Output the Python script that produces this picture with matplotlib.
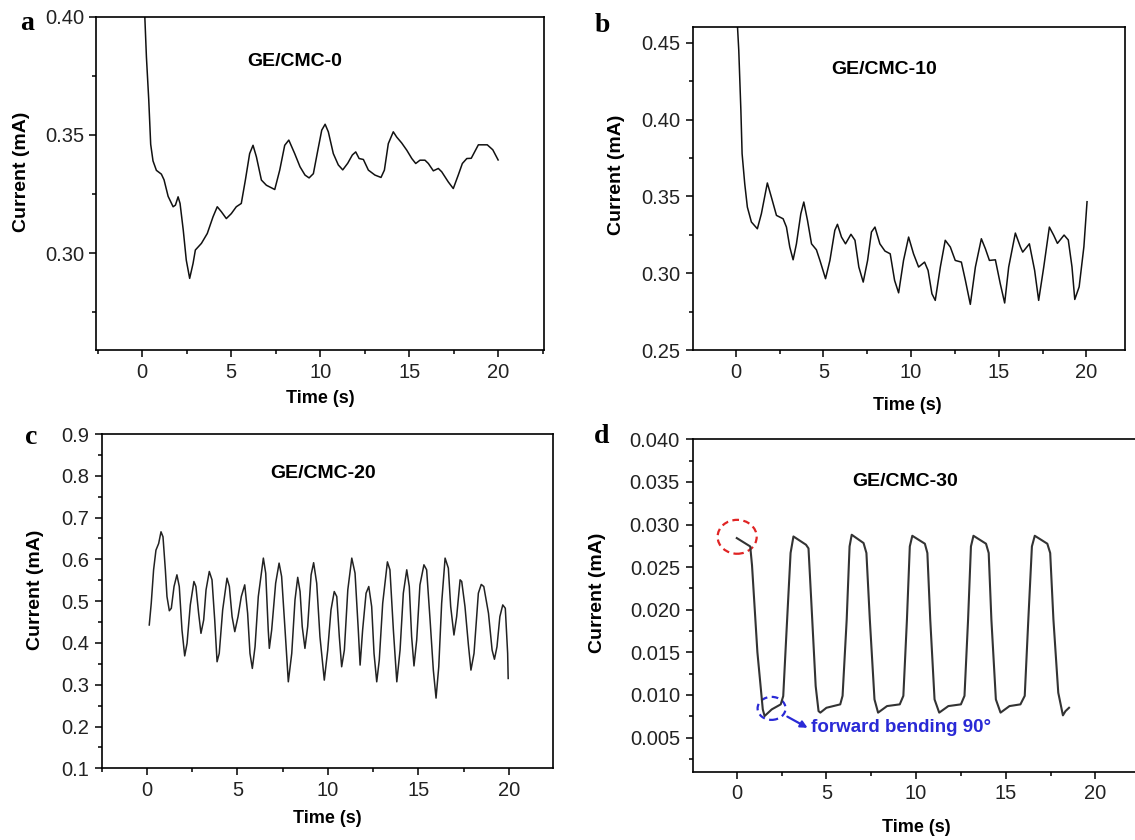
import matplotlib
matplotlib.use("Agg")
import matplotlib.pyplot as plt
from matplotlib.patches import Ellipse
from matplotlib.ticker import MultipleLocator, FormatStrFormatter

plt.rcParams['font.family'] = ['Liberation Sans', 'DejaVu Sans']

# ---------------- data ----------------
time_a = [0.12, 0.15, 0.24, 0.37, 0.48, 0.61, 0.80, 1.08, 1.23, 1.46, 1.74, 1.87, 2.02, 2.13,
          2.31, 2.48, 2.67, 2.86, 2.99, 3.33, 3.66, 3.98, 4.22, 4.45, 4.73, 5.01, 5.29, 5.57,
          5.80, 6.04, 6.23, 6.42, 6.70, 6.98, 7.45, 7.73, 8.01, 8.24, 8.57, 8.87, 9.15, 9.38,
          9.62, 9.87, 10.09, 10.28, 10.46, 10.74, 11.02, 11.27, 11.55, 11.81, 12.00, 12.19,
          12.43, 12.71, 13.08, 13.42, 13.61, 13.83, 14.11, 14.30, 14.58, 14.87, 15.15, 15.37,
          15.61, 15.89, 16.08, 16.36, 16.64, 16.83, 17.20, 17.48, 17.76, 17.99, 18.24, 18.49,
          18.89, 19.39, 19.70, 20.00]
current_a = [0.405, 0.400, 0.383, 0.365, 0.346, 0.339, 0.335, 0.3334, 0.331, 0.324, 0.3196,
             0.3203, 0.3238, 0.321, 0.3097, 0.297, 0.2893, 0.2956, 0.3013, 0.3041, 0.3083,
             0.3153, 0.3196, 0.3175, 0.3146, 0.3167, 0.3196, 0.321, 0.3309, 0.3421, 0.3456,
             0.3407, 0.3309, 0.3287, 0.3269, 0.3351, 0.3456, 0.3478, 0.3421, 0.3365, 0.333,
             0.3318, 0.3336, 0.3435, 0.352, 0.3545, 0.3513, 0.3421, 0.3373, 0.3352, 0.338,
             0.3415, 0.3428, 0.340, 0.3396, 0.3351, 0.333, 0.332, 0.3351, 0.3463, 0.3513,
             0.3491, 0.3466, 0.3435, 0.340, 0.3379, 0.3393, 0.3393, 0.3379, 0.3348, 0.3358,
             0.3344, 0.3301, 0.3273, 0.333, 0.3379, 0.340, 0.3401, 0.3458, 0.3458, 0.3437,
             0.3394]

time_b = [0.09, 0.17, 0.29, 0.36, 0.51, 0.66, 0.89, 1.23, 1.46, 1.80, 2.03, 2.32, 2.70, 2.89,
          3.08, 3.27, 3.46, 3.71, 3.88, 4.09, 4.32, 4.60, 4.80, 5.12, 5.37, 5.65, 5.80, 6.03,
          6.26, 6.57, 6.80, 7.02, 7.27, 7.52, 7.74, 7.94, 8.22, 8.51, 8.81, 9.06, 9.29, 9.57,
          9.86, 10.14, 10.43, 10.77, 10.97, 11.19, 11.38, 11.67, 11.95, 12.24, 12.52, 12.87,
          13.10, 13.38, 13.67, 14.01, 14.24, 14.47, 14.81, 15.09, 15.34, 15.57, 15.95, 16.24,
          16.37, 16.75, 17.05, 17.28, 17.57, 17.89, 18.14, 18.35, 18.73, 18.97, 19.18, 19.34,
          19.59, 19.86, 20.04]
current_b = [0.462, 0.445, 0.406, 0.3777, 0.3582, 0.343, 0.3333, 0.3289, 0.3387, 0.3587,
             0.3495, 0.3376, 0.3354, 0.330, 0.317, 0.3087, 0.3191, 0.3387, 0.3463, 0.3344,
             0.3191, 0.3152, 0.3083, 0.2964, 0.3083, 0.3279, 0.3318, 0.3235, 0.3191, 0.3253,
             0.3214, 0.304, 0.2942, 0.3083, 0.3268, 0.330, 0.3191, 0.3144, 0.3126, 0.2953,
             0.2872, 0.3083, 0.3235, 0.3126, 0.304, 0.3072, 0.3018, 0.2866, 0.2823, 0.304,
             0.3214, 0.317, 0.3083, 0.3072, 0.2953, 0.2797, 0.304, 0.3224, 0.3159, 0.3083,
             0.3087, 0.2931, 0.2806, 0.304, 0.3261, 0.317, 0.3137, 0.3191, 0.3018, 0.2823,
             0.304, 0.330, 0.3246, 0.3194, 0.3248, 0.3216, 0.3042, 0.2829, 0.2911, 0.3172,
             0.3465]

time_c = [0.12, 0.23, 0.36, 0.49, 0.64, 0.77, 0.88, 1.01, 1.10, 1.23, 1.34, 1.49, 1.65, 1.78,
          1.93, 2.08, 2.21, 2.39, 2.59, 2.70, 2.85, 2.98, 3.13, 3.26, 3.44, 3.59, 3.74, 3.87,
          3.99, 4.18, 4.42, 4.55, 4.70, 4.85, 5.03, 5.21, 5.40, 5.56, 5.69, 5.82, 5.97, 6.15,
          6.43, 6.56, 6.70, 6.76, 6.89, 7.11, 7.30, 7.44, 7.63, 7.81, 8.00, 8.18, 8.33, 8.46,
          8.58, 8.73, 8.88, 9.07, 9.21, 9.38, 9.56, 9.80, 9.99, 10.17, 10.35, 10.49, 10.63,
          10.76, 10.91, 11.10, 11.32, 11.50, 11.68, 11.78, 11.92, 12.11, 12.26, 12.42, 12.55,
          12.70, 12.84, 13.03, 13.29, 13.43, 13.62, 13.81, 13.99, 14.17, 14.36, 14.50, 14.63,
          14.76, 14.91, 15.09, 15.31, 15.46, 15.65, 15.83, 15.98, 16.13, 16.29, 16.48, 16.66,
          16.79, 16.97, 17.12, 17.31, 17.40, 17.58, 17.77, 17.91, 18.08, 18.32, 18.48, 18.62,
          18.88, 19.08, 19.21, 19.35, 19.51, 19.67, 19.81, 19.94, 19.97]
current_c = [0.443, 0.495, 0.575, 0.622, 0.638, 0.666, 0.654, 0.575, 0.511, 0.477, 0.483,
             0.535, 0.563, 0.535, 0.431, 0.369, 0.399, 0.491, 0.547, 0.535, 0.471, 0.423,
             0.455, 0.527, 0.571, 0.551, 0.455, 0.355, 0.375, 0.479, 0.555, 0.535, 0.463,
             0.427, 0.463, 0.511, 0.539, 0.471, 0.375, 0.339, 0.391, 0.511, 0.603, 0.567,
             0.431, 0.387, 0.431, 0.543, 0.591, 0.559, 0.431, 0.307, 0.375, 0.503, 0.557,
             0.523, 0.439, 0.387, 0.439, 0.563, 0.592, 0.543, 0.415, 0.311, 0.383, 0.479,
             0.523, 0.511, 0.415, 0.343, 0.383, 0.527, 0.603, 0.567, 0.431, 0.347, 0.431,
             0.519, 0.535, 0.487, 0.375, 0.307, 0.359, 0.495, 0.594, 0.575, 0.431, 0.307,
             0.383, 0.519, 0.575, 0.535, 0.415, 0.345, 0.407, 0.539, 0.587, 0.575, 0.455,
             0.335, 0.268, 0.343, 0.495, 0.603, 0.579, 0.487, 0.419, 0.463, 0.551, 0.547,
             0.487, 0.395, 0.335, 0.375, 0.519, 0.540, 0.535, 0.471, 0.383, 0.361, 0.391,
             0.463, 0.491, 0.483, 0.375, 0.315]

time_d = [0.00, 0.75, 0.85, 1.15, 1.45, 1.55, 1.95, 2.45, 2.59, 2.76, 3.00, 3.16, 3.86, 4.00,
          4.16, 4.40, 4.56, 4.66, 5.00, 5.77, 5.90, 6.13, 6.29, 6.41, 7.07, 7.23, 7.42, 7.68,
          7.88, 8.38, 9.09, 9.29, 9.49, 9.65, 9.79, 10.49, 10.63, 10.79, 11.03, 11.29, 11.80,
          12.50, 12.70, 12.90, 13.06, 13.20, 13.90, 14.05, 14.20, 14.45, 14.71, 15.21, 15.82,
          16.06, 16.26, 16.46, 16.62, 17.32, 17.48, 17.66, 17.93, 18.19, 18.33, 18.53]
current_d = [0.02841, 0.02743, 0.0252, 0.0150, 0.00831, 0.00753, 0.00831, 0.0089, 0.00987,
             0.0169, 0.02666, 0.0286, 0.02763, 0.0272, 0.0208, 0.01104, 0.00811, 0.00793,
             0.0085, 0.0089, 0.0099, 0.01885, 0.02743, 0.0288, 0.02783, 0.02666, 0.01885,
             0.00948, 0.00793, 0.0087, 0.0089, 0.0099, 0.01885, 0.02743, 0.02868, 0.02775,
             0.02666, 0.01885, 0.00948, 0.00793, 0.0087, 0.0089, 0.0099, 0.01885, 0.02743,
             0.02868, 0.02775, 0.02666, 0.01885, 0.00948, 0.00793, 0.0087, 0.0089, 0.0099,
             0.01885, 0.02743, 0.02868, 0.02775, 0.02666, 0.01885, 0.01027, 0.00761, 0.0081,
             0.0085]

panel_letters = ['a', 'b', 'c', 'd']
sample_names = ['GE/CMC-0', 'GE/CMC-10', 'GE/CMC-20', 'GE/CMC-30']
x_label = 'Time (s)'
y_label = 'Current (mA)'
annotation_text = 'forward bending 90\u00b0'

# ---------------- layout ----------------
W, H = 1135, 840
fig = plt.figure(figsize=(W / 100, H / 100), dpi=100)


def add_axes_px(left, right, top, bottom):
    return fig.add_axes([left / W, 1 - bottom / H, (right - left) / W, (bottom - top) / H])


def fx(px):
    return px / W


def fy(py):
    return 1 - py / H


axes_px = [(96.4, 544.4, 16.7, 350.0),
           (692.5, 1124.9, 26.7, 350.0),
           (101.7, 553.4, 434.0, 768.3),
           (692.5, 1140.2, 439.3, 771.7)]
xlims = [(-2.57, 22.6), (-2.47, 22.2), (-2.51, 22.47), (-2.47, 22.5)]
ylims = [(0.259, 0.40), (0.25, 0.4604), (0.1, 0.9), (0.001, 0.040)]
ymajor = [0.05, 0.05, 0.1, 0.005]
yfmt = ['%.2f', '%.2f', '%.1f', '%.3f']
series = [(time_a, current_a), (time_b, current_b), (time_c, current_c), (time_d, current_d)]
line_w = [1.1, 1.1, 1.1, 1.5]
line_c = ['#111111', '#111111', '#222222', '#333333']

name_pos = [(295.0, 61.7), (884.0, 70.0), (323.0, 473.3), (905.0, 481.7)]
letter_pos = [(27, 24), (602, 25), (31, 437), (602, 436)]
ylab_pos = [(21.4, 171.7), (616.8, 175.0), (35.7, 590.0), (598.0, 593.3)]
xlab_pos = [(320.0, 398.3), (906.9, 405.0), (327.7, 818.3), (915.9, 827.3)]

axes = []
for i in range(4):
    ax = add_axes_px(*axes_px[i])
    axes.append(ax)
    t, v = series[i]
    ax.plot(t, v, color=line_c[i], lw=line_w[i], solid_joinstyle='round')
    ax.set_xlim(*xlims[i])
    ax.set_ylim(*ylims[i])
    ax.xaxis.set_major_locator(MultipleLocator(5))
    ax.xaxis.set_minor_locator(MultipleLocator(2.5))
    ax.yaxis.set_major_locator(MultipleLocator(ymajor[i]))
    ax.yaxis.set_minor_locator(MultipleLocator(ymajor[i] / 2))
    ax.yaxis.set_major_formatter(FormatStrFormatter(yfmt[i]))
    ax.xaxis.set_major_formatter(FormatStrFormatter('%d'))
    ax.tick_params(which='both', direction='out', top=False, right=False, width=1.1,
                   labelsize=14.5, colors='black', labelcolor='#222222')
    ax.tick_params(which='major', length=5, pad=4)
    ax.tick_params(which='minor', length=3)
    for sp in ax.spines.values():
        sp.set_linewidth(1.2)
    # labels
    ax.set_ylabel(y_label, fontsize=14, fontweight='bold')
    ax.yaxis.set_label_coords(fx(ylab_pos[i][0]), fy(ylab_pos[i][1]), transform=fig.transFigure)
    ax.set_xlabel(x_label, fontsize=13, fontweight='bold')
    ax.xaxis.set_label_coords(fx(xlab_pos[i][0]), fy(xlab_pos[i][1]), transform=fig.transFigure)
    ax.xaxis.label.set_va('center')
    ax.yaxis.label.set_va('center')
    fig.text(fx(name_pos[i][0]), fy(name_pos[i][1]), sample_names[i], fontsize=14,
             fontweight='bold', ha='center', va='center')
    fig.text(fx(letter_pos[i][0]), fy(letter_pos[i][1]), panel_letters[i], fontsize=20,
             fontweight='bold', family=['Liberation Serif', 'DejaVu Serif'],
             ha='center', va='center')

# annotations on panel d
axd = axes[3]
axd.add_patch(Ellipse((0.02, 0.02856), 2.18, 0.00398, fill=False, ls=(0, (3, 2)),
                      lw=1.6, ec='#e02424'))
axd.add_patch(Ellipse((1.94, 0.00843), 1.56, 0.0027, fill=False, ls=(0, (3, 2)),
                      lw=1.6, ec='#2a2ad6'))
axd.annotate('', xy=(3.95, 0.00615), xytext=(2.82, 0.00746),
             arrowprops=dict(arrowstyle='-|>', color='#2a2ad6', lw=1.6, mutation_scale=10,
                             shrinkA=0, shrinkB=0))
axd.text(4.12, 0.00617, annotation_text, color='#2a2ad6', fontsize=13.5, fontweight='bold',
         ha='left', va='center')

fig.savefig('out.png', dpi=100)
